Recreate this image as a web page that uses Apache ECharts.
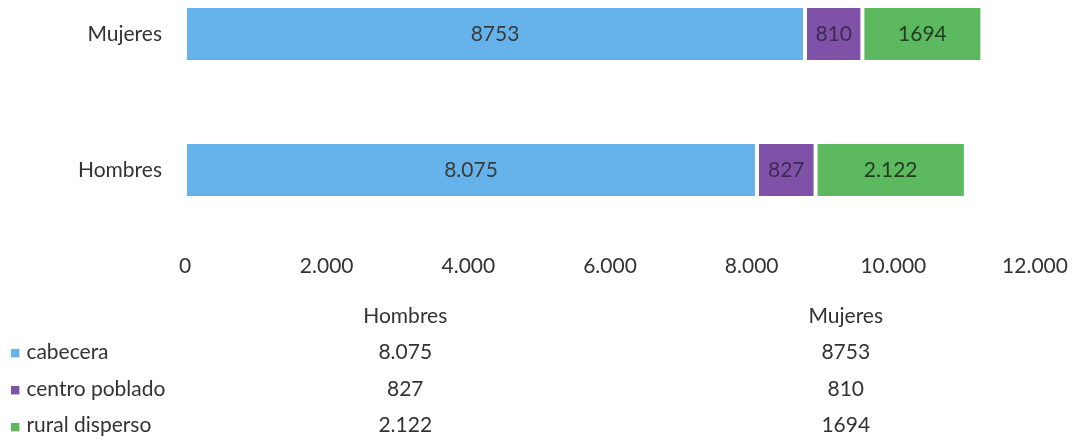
<!DOCTYPE html>
<html><head><meta charset="utf-8">
<script src="https://cdn.jsdelivr.net/npm/echarts@6/dist/echarts.min.js"></script>
<style>html,body{margin:0;padding:0;background:#fff}#c{width:1072px;height:444px}</style>
</head><body><div id="c"></div>
<script>
const categories = ['Hombres', 'Mujeres'];
const seriesNames = ['cabecera', 'centro poblado', 'rural disperso'];
const cabecera = [8075, 8753];
const centroPoblado = [827, 810];
const ruralDisperso = [2122, 1694];
const thousandsSep = [true, false]; // Hombres shown with "." separator, Mujeres without
const xTicks = [0, 2000, 4000, 6000, 8000, 10000, 12000];

const colors = ['#66b3ec', '#7f52a8', '#5db95f'];
const labelColors = ['#3a3a3a', '#3d2a55', '#233d23'];
const FONT = 'Lato';
const FS = 21;
const txt = '#333333';

function fmt(v, sep) {
  return sep ? String(v).replace(/\B(?=(\d{3})+(?!\d))/g, '.') : String(v);
}
const allSeries = [cabecera, centroPoblado, ruralDisperso];

const chart = echarts.init(document.getElementById('c'), null, {renderer: 'canvas'});
const barSeries = allSeries.map((vals, i) => ({
  name: seriesNames[i], type: 'bar', stack: 'total', xAxisIndex: 0, yAxisIndex: 0,
  barWidth: 56,
  data: vals,
  itemStyle: {color: colors[i], borderColor: '#fff', borderWidth: 2},
  label: {show: true, position: 'inside', color: labelColors[i], fontFamily: FONT, fontSize: FS,
    formatter: p => fmt(p.value, thousandsSep[p.dataIndex])}
}));

// table cells
const tableData = [];
allSeries.forEach((vals, r) => vals.forEach((v, c) => tableData.push([c, r, v])));

const rich = {};
seriesNames.forEach((n, i) => { rich['m' + i] = {color: colors[i], fontSize: 11, fontFamily: 'DejaVu Sans', padding: [3, 6, 0, 0]}; });
rich.t = {color: txt, fontSize: FS, fontFamily: FONT};

chart.setOption({
  animation: false,
  grid: [
    {left: 185, right: 37, top: 34, height: 136},
    {left: 185, right: 6, top: 333.5, height: 111}
  ],
  xAxis: [
    {type: 'value', gridIndex: 0, min: xTicks[0], max: xTicks[xTicks.length - 1], interval: xTicks[1] - xTicks[0],
     axisLine: {show: false}, axisTick: {show: false}, splitLine: {show: false},
     axisLabel: {color: txt, fontFamily: FONT, fontSize: FS, margin: 86,
       formatter: v => fmt(v, true)}},
    {type: 'category', gridIndex: 1, position: 'top', data: categories,
     axisLine: {show: false}, axisTick: {show: false}, splitLine: {show: false},
     axisLabel: {color: txt, fontFamily: FONT, fontSize: FS, margin: 7}}
  ],
  yAxis: [
    {type: 'category', gridIndex: 0, data: categories, boundaryGap: false,
     axisLine: {show: false}, axisTick: {show: false}, splitLine: {show: false},
     axisLabel: {color: txt, fontFamily: FONT, fontSize: FS, margin: 23}},
    {type: 'category', gridIndex: 1, data: seriesNames, inverse: true,
     axisLine: {show: false}, axisTick: {show: false},
     splitLine: {show: false},
     axisLabel: {align: 'left', margin: 175, rich: rich,
       formatter: (v, i) => '{m' + i + '|■}{t|' + v + '}'}}
  ],
  series: barSeries.concat([{
    type: 'scatter', xAxisIndex: 1, yAxisIndex: 1, symbolSize: 1, data: tableData,
    itemStyle: {opacity: 1, color: 'rgba(255,255,255,0)'},
    label: {show: true, position: 'inside', color: txt, opacity: 1, fontFamily: FONT, fontSize: FS,
      formatter: p => fmt(p.value[2], thousandsSep[p.value[0]])}
  }])
});
</script></body></html>
